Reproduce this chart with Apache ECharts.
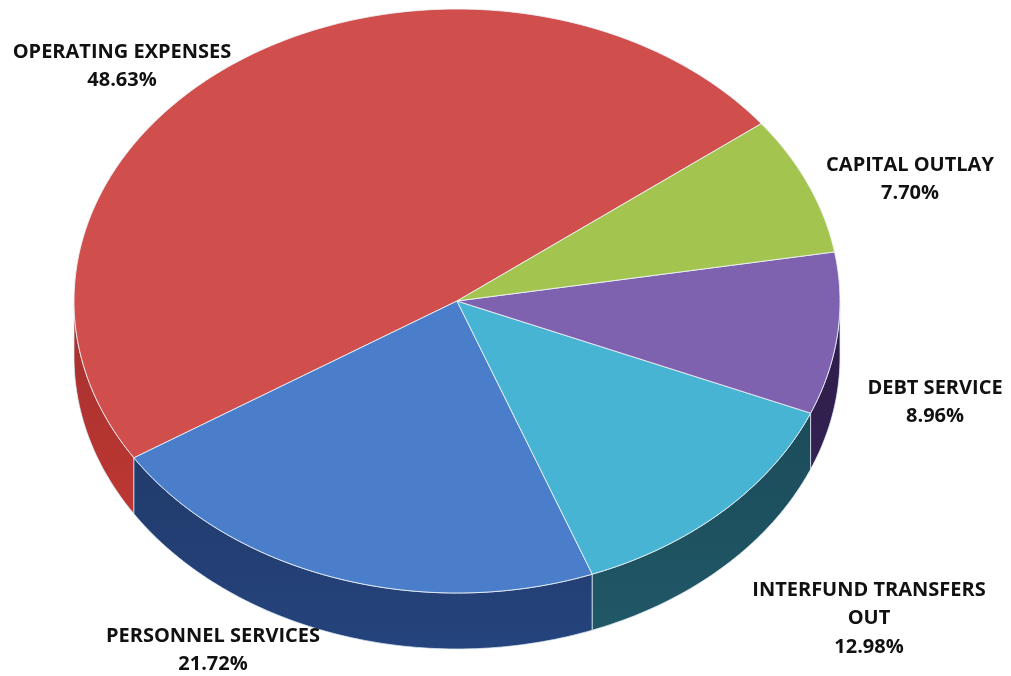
<!DOCTYPE html>
<html>
<head>
<meta charset="utf-8">
<script src="https://cdn.jsdelivr.net/npm/echarts@6/dist/echarts.min.js"></script>
<style>html,body{margin:0;padding:0;background:#fff;}#c{width:1011px;height:676px;}</style>
</head>
<body>
<div id="c"></div>
<script>
// ---- data ----
const categories = ['OPERATING EXPENSES', 'PERSONNEL SERVICES', 'INTERFUND TRANSFERS OUT', 'DEBT SERVICE', 'CAPITAL OUTLAY'];
const labelLines = ['OPERATING EXPENSES', 'PERSONNEL SERVICES', 'INTERFUND TRANSFERS\nOUT', 'DEBT SERVICE', 'CAPITAL OUTLAY'];
const shares = [48.63, 21.72, 12.98, 8.96, 7.70];

// ---- styling / layout ----
const topColors = ['#D04E4B', '#4A7DCA', '#47B4D3', '#7F62AF', '#A3C54F'];
const sideColors = ['#A5302D', '#213B6C', '#1C4C5A', '#2D1D48', '#5E7A26'];
const labelPos = [[122, 52], [213, 636], [869, 590], [935, 388], [910, 165]];
const CX = 457, CY = 301, RX = 383, RY = 292, DEPTH = 56, START = 37.4;
const LINE_H = 28.5;

const total = shares.reduce((a, b) => a + b, 0);
const starts = [];
let acc = START;
shares.forEach(v => { starts.push(acc); acc += v / total * 360; });

function arcPts(a, b, dy) {
  const pts = [];
  const n = Math.max(2, Math.ceil(Math.abs(b - a)));
  for (let i = 0; i <= n; i++) {
    const t = (a + (b - a) * i / n) * Math.PI / 180;
    pts.push([CX + RX * Math.cos(t), CY - RY * Math.sin(t) + dy]);
  }
  return pts;
}

function renderSide(params, api) {
  const i = params.dataIndex;
  const a = starts[i], b = a + api.value(0) / total * 360;
  const s = Math.max(a, 180), e = Math.min(b, 360);
  if (e <= s) return null;
  const pts = arcPts(s, e, 0).concat(arcPts(e, s, DEPTH));
  return {
    type: 'polygon',
    shape: { points: pts },
    style: {
      fill: new echarts.graphic.LinearGradient(0, 0, 0, 1, [
        { offset: 0, color: sideColors[i] },
        { offset: 1, color: echarts.color.lift(sideColors[i], -0.15) }
      ]),
      stroke: 'rgba(220,235,245,0.75)', lineWidth: 1
    }
  };
}

function renderTop(params, api) {
  const i = params.dataIndex;
  const v = api.value(0);
  const a = starts[i], b = a + v / total * 360;
  const pts = [[CX, CY]].concat(arcPts(a, b, 0));
  const lp = labelPos[i];
  const txt = labelLines[i] + '\n' + v.toFixed(2) + '%';
  return {
    type: 'group',
    children: [
      {
        type: 'polygon',
        shape: { points: pts },
        style: { fill: topColors[i], stroke: 'rgba(240,245,250,0.85)', lineWidth: 1 }
      },
      {
        type: 'text',
        x: lp[0], y: lp[1] - LINE_H / 2,
        style: {
          text: txt, fill: '#111', font: 'bold 20px "Open Sans", sans-serif',
          align: 'center', verticalAlign: 'top', lineHeight: LINE_H
        }
      }
    ]
  };
}

const chart = echarts.init(document.getElementById('c'), null, { renderer: 'canvas' });
chart.setOption({
  backgroundColor: '#ffffff',
  animation: false,
  series: [
    { type: 'custom', coordinateSystem: 'none', silent: true, z: 1, renderItem: renderSide, data: shares.map(v => [v]) },
    { type: 'custom', coordinateSystem: 'none', silent: true, z: 2, renderItem: renderTop, data: shares.map(v => [v]) }
  ]
});
</script>
</body>
</html>
